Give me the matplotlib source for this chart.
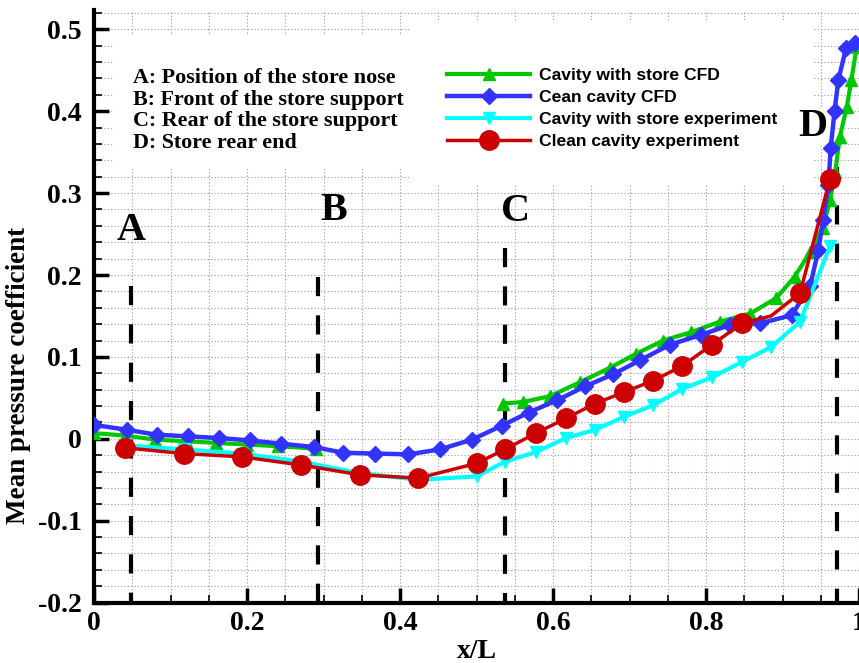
import matplotlib.pyplot as plt
import numpy as np
from matplotlib.patches import Rectangle

# Cavity with store CFD (gap between store support front and rear)
green_x = [0.0, 0.04, 0.08, 0.12, 0.16, 0.20, 0.24, 0.29, np.nan,
           0.535, 0.561, 0.596, 0.635, 0.675, 0.709, 0.744, 0.78, 0.818, 0.858,
           0.892, 0.916, 0.936, 0.953, 0.962, 0.969, 0.975, 0.984, 0.990, 0.997]
green_y = [0.007, 0.004, -0.001, -0.003, -0.005, -0.007, -0.009, -0.012, np.nan,
           0.043, 0.045, 0.052, 0.069, 0.087, 0.104, 0.120, 0.130, 0.143, 0.153,
           0.172, 0.198, 0.228, 0.258, 0.291, 0.326, 0.369, 0.405, 0.438, 0.478]

# Clean cavity CFD
blue_x = [0.0, 0.043, 0.082, 0.123, 0.163, 0.204, 0.245, 0.287, 0.326, 0.367,
          0.411, 0.452, 0.494, 0.533, 0.568, 0.605, 0.642, 0.679, 0.714, 0.753,
          0.794, 0.831, 0.871, 0.912, 0.936, 0.947, 0.953, 0.96, 0.963, 0.968,
          0.973, 0.983, 0.995]
blue_y = [0.017, 0.011, 0.005, 0.003, 0.001, -0.002, -0.006, -0.010, -0.017, -0.018,
          -0.019, -0.013, -0.001, 0.016, 0.032, 0.047, 0.064, 0.079, 0.096, 0.115,
          0.127, 0.139, 0.141, 0.151, 0.186, 0.231, 0.267, 0.31, 0.355, 0.40,
          0.438, 0.477, 0.483]

# experiments (same pressure taps)
exp_x = [0.041, 0.117, 0.193, 0.271, 0.348, 0.424, 0.5, 0.537, 0.578, 0.617,
         0.655, 0.693, 0.731, 0.769, 0.808, 0.847, 0.885, 0.923, 0.962]
cyan_y = [-0.008, -0.013, -0.018, -0.028, -0.042, -0.050, -0.046, -0.028, -0.016, 0.001,
          0.011, 0.027, 0.041, 0.061, 0.075, 0.094, 0.112, 0.143, 0.235]
red_y = [-0.011, -0.018, -0.022, -0.032, -0.044, -0.048, -0.030, -0.013, 0.007, 0.025,
         0.043, 0.057, 0.071, 0.089, 0.115, 0.141, 0.150, 0.178, 0.317]

series_labels = ['Cavity with store CFD', 'Cean cavity CFD',
                 'Cavity with store experiment', 'Clean cavity experiment']

# store positions A-D
pos_names = ['A', 'B', 'C', 'D']
pos_x = [0.048, 0.293, 0.537, 0.971]
pos_top = [0.186, 0.197, 0.233, 0.332]
letter_x = [0.049, 0.313, 0.551, 0.940]
letter_y = [0.254, 0.279, 0.277, 0.381]

notes = ['A: Position of the store nose', 'B: Front of the store support',
         'C: Rear of the store support', 'D: Store rear end']

xticks = [0, 0.2, 0.4, 0.6, 0.8, 1.0]
xticklabels = ['0', '0.2', '0.4', '0.6', '0.8', '1']
yticks = [-0.2, -0.1, 0, 0.1, 0.2, 0.3, 0.4, 0.5]
yticklabels = ['-0.2', '-0.1', '0', '0.1', '0.2', '0.3', '0.4', '0.5']

serif = 'Liberation Serif'
sans = 'Liberation Sans'

fig = plt.figure(figsize=(8.59, 6.63), dpi=100)
ax = fig.add_axes([94 / 859, 60.4 / 663, 765 / 859, 592.6 / 663])

ax.set_xlim(0, 1.0)
ax.set_ylim(-0.2, 0.5236)

# grid
ax.set_xticks(xticks)
ax.set_xticklabels(xticklabels, fontfamily=serif, fontweight='bold', fontsize=20)
ax.set_yticks(yticks)
ax.set_yticklabels(yticklabels, fontfamily=serif, fontweight='bold', fontsize=20)
ax.set_xticks(np.arange(0, 1.001, 0.05), minor=True)
ax.set_yticks(np.arange(-0.2, 0.521, 0.02), minor=True)
ax.grid(which='both', color='#999999', linestyle=(0, (1, 2)), linewidth=0.8)
ax.tick_params(which='major', direction='in', length=11, width=2.5, pad=9)
ax.tick_params(which='minor', direction='in', length=6, width=1.2)
ax.tick_params(axis='x', pad=6)

for s in ['top', 'right']:
    ax.spines[s].set_visible(False)
for s in ['left', 'bottom']:
    ax.spines[s].set_linewidth(3)

# white boxes behind the text blocks
ax.add_patch(Rectangle((0.025, 0.33), 0.39, 0.162, facecolor='white',
                       edgecolor='none', zorder=1.8))
ax.add_patch(Rectangle((0.415, 0.31), 0.525, 0.2, facecolor='white',
                       edgecolor='none', zorder=1.8))

# dashed position markers
for xp, yt in zip(pos_x, pos_top):
    ax.plot([xp, xp], [yt, -0.2], color='black', lw=3,
            linestyle=(0, (4.6, 4.6)), zorder=2.1, solid_capstyle='butt',
            dash_capstyle='butt')

for name, lx, ly in zip(pos_names, letter_x, letter_y):
    ax.text(lx, ly, name, fontfamily=serif, fontweight='bold', fontsize=29,
            ha='center', va='center', zorder=3,
            bbox=dict(facecolor='white', edgecolor='none', pad=1) if name == 'D' else None)

l1, = ax.plot(green_x, green_y, color='#00C800', lw=3, marker='^', ms=8,
              label=series_labels[0], zorder=3)
l2, = ax.plot(blue_x, blue_y, color='#3333FF', lw=3.2, marker='D', ms=8.5,
              label=series_labels[1], zorder=4)
l3, = ax.plot(exp_x, cyan_y, color='#00FFFF', lw=3, marker='v', ms=9,
              label=series_labels[2], zorder=5)
l4, = ax.plot(exp_x, red_y, color='#CC0000', lw=2.5, marker='o', ms=14,
              markevery=[i for i in range(len(exp_x)) if i != 16],
              label=series_labels[3], zorder=6)

leg = ax.legend(handles=[l1, l2, l3, l4], loc='upper left',
                bbox_to_anchor=(0.45, 0.917), frameon=False, borderpad=0,
                handlelength=4.75, handletextpad=0.5, labelspacing=0.38,
                prop=dict(family=sans, weight='bold', size=12.6))
leg.set_zorder(7)

ax.text(0.051, 0.401, '\n'.join(notes), fontfamily=serif, fontweight='bold',
        fontsize=15.8, ha='left', va='center', linespacing=1.1, zorder=7)

ax.set_xlabel('x/L', fontfamily=serif, fontweight='bold', fontsize=20, labelpad=2)
ax.set_ylabel('Mean pressure coefficient', fontfamily=serif, fontweight='bold',
              fontsize=19.5)
ax.yaxis.set_label_coords(-0.082, 0.384)

fig.savefig('out.png', dpi=100)
